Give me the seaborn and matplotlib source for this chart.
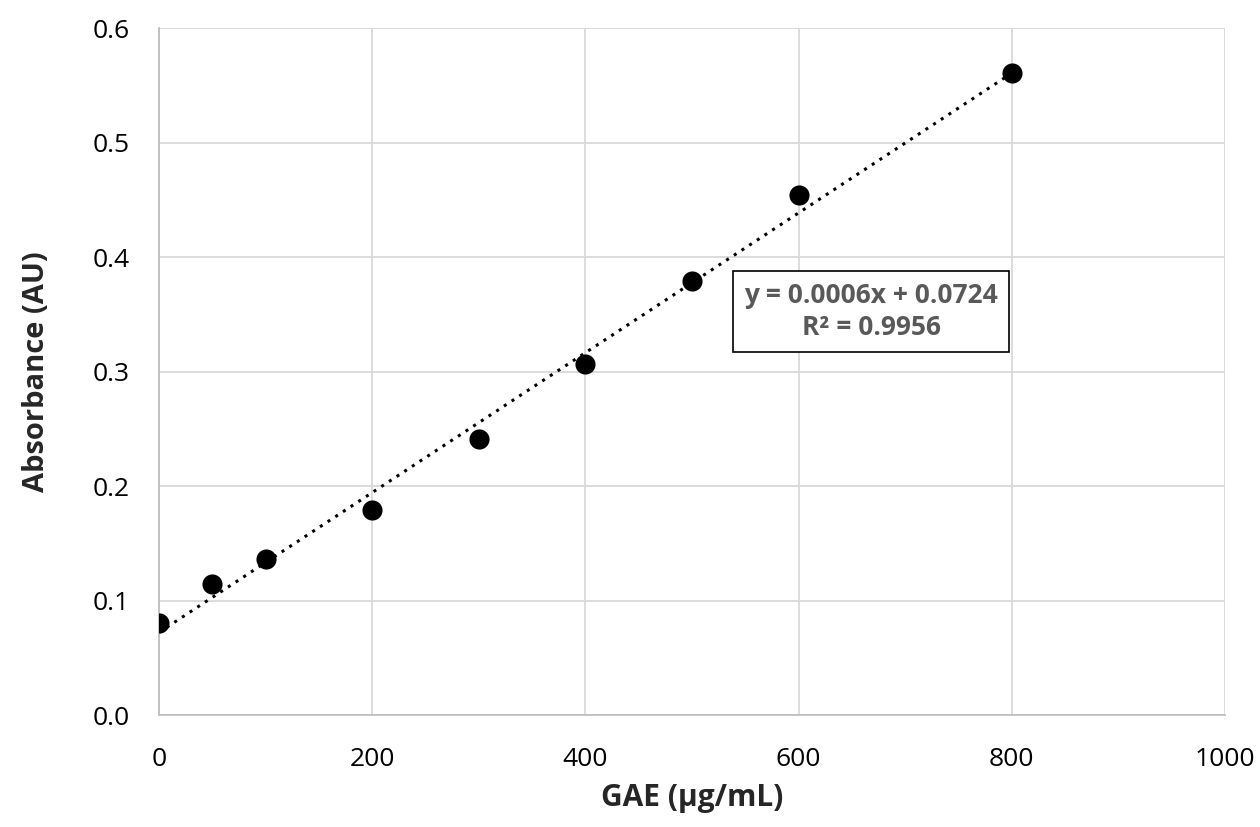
import numpy as np
import pandas as pd
import matplotlib
matplotlib.use("Agg")
import matplotlib.pyplot as plt
import seaborn as sns

# calibration standards
conc = [0, 50, 100, 200, 300, 400, 500, 600, 800]
absorb = [0.080, 0.114, 0.136, 0.179, 0.241, 0.307, 0.379, 0.454, 0.561]
x_ticks = [0, 200, 400, 600, 800, 1000]
y_ticks = [0.0, 0.1, 0.2, 0.3, 0.4, 0.5, 0.6]
eq_text = "y = 0.0006x + 0.0724\nR² = 0.9956"

df = pd.DataFrame({"GAE": conc, "Abs": absorb})

sns.set_style("white")
plt.rcParams['font.family'] = ['Open Sans', 'DejaVu Sans']

fig = plt.figure(figsize=(12.6, 8.27), dpi=100)
ax = fig.add_axes([0.1262, 0.1354, 0.846, 0.8307])

# linear trendline
slope, inter = np.polyfit(df["GAE"], df["Abs"], 1)
xs = np.array([min(conc), max(conc)])
ax.plot(xs, slope * xs + inter, color="black", linestyle=(0, (1, 2)), linewidth=2.2, zorder=2)

sns.scatterplot(data=df, x="GAE", y="Abs", ax=ax, color="black", s=210,
                edgecolor="black", linewidth=0, zorder=3)

ax.set_xlim(0, 1000)
ax.set_ylim(0, 0.6)
ax.set_xticks(x_ticks)
ax.set_yticks(y_ticks)
ax.set_yticklabels([f"{v:.1f}" for v in y_ticks])
ax.grid(True, color="#d9d9d9", linewidth=1.3)
ax.set_axisbelow(True)
for s in ["top", "right"]:
    ax.spines[s].set_visible(False)
for s in ["left", "bottom"]:
    ax.spines[s].set_color("#bfbfbf")
    ax.spines[s].set_linewidth(1.3)
ax.tick_params(length=0, labelsize=19, colors="black")
ax.tick_params(axis="y", pad=21)
ax.tick_params(axis="x", pad=23)
ax.set_xlabel("GAE (µg/mL)", fontsize=21.5, fontweight="bold", labelpad=8)
ax.set_ylabel("Absorbance (AU)", fontsize=21, fontweight="bold", labelpad=30)

ax.text(668, 0.3525, eq_text, fontsize=19, fontweight="bold", color="#595959",
        ha="center", va="center", linespacing=1.2,
        bbox=dict(boxstyle="square,pad=0.42", facecolor="white", edgecolor="black", linewidth=1.2))

fig.savefig("out.png", dpi=100)
